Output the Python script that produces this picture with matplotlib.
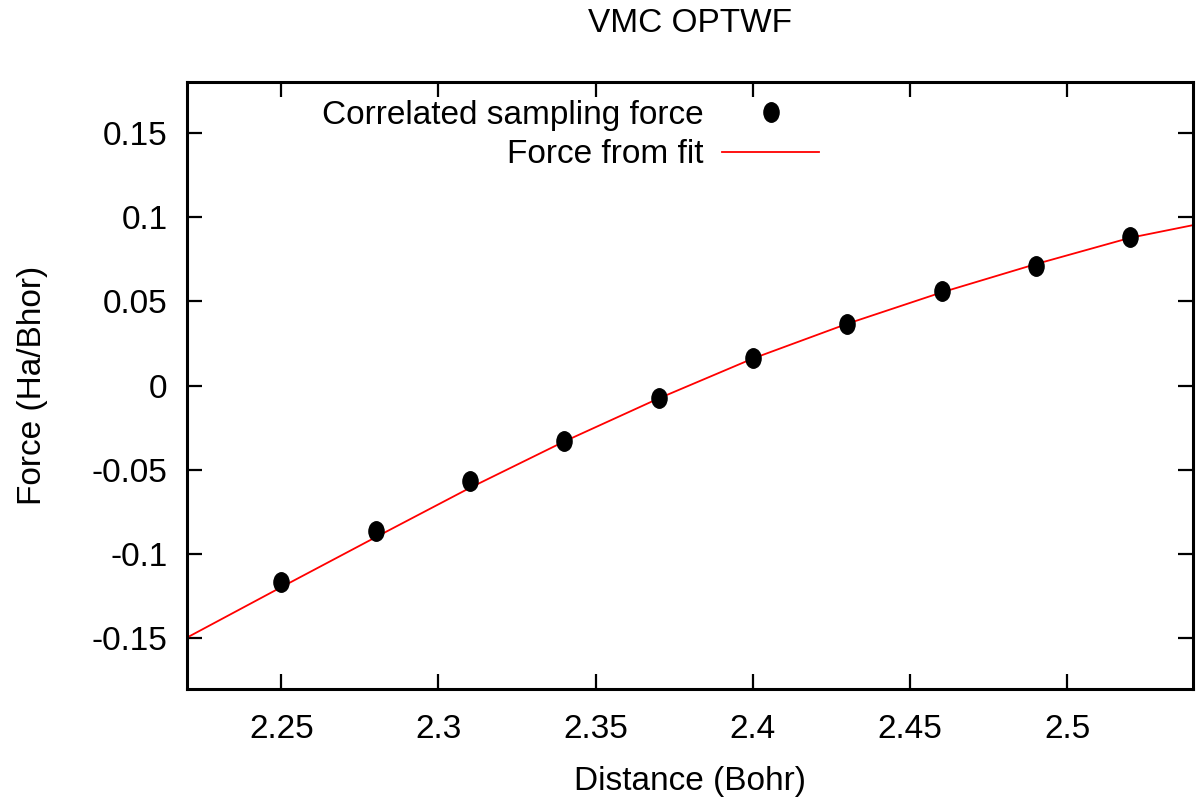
import matplotlib
matplotlib.use("Agg")
import matplotlib.pyplot as plt
from matplotlib.path import Path
from matplotlib.transforms import Affine2D

# correlated sampling forces (Ha/Bohr) at each distance
distance = [2.25, 2.28, 2.31, 2.34, 2.37, 2.40, 2.43, 2.46, 2.49, 2.52]
force = [-0.1165, -0.0862, -0.0565, -0.0328, -0.0073, 0.0164, 0.0366, 0.0563, 0.0708, 0.0882]

# fitted force curve
fit_x = [2.22, 2.25, 2.28, 2.31, 2.34, 2.37, 2.40, 2.43, 2.46, 2.49, 2.52, 2.54]
fit_y = [-0.1495, -0.1196, -0.0900, -0.0607, -0.0332, -0.0077, 0.0160, 0.0366, 0.0552, 0.0720, 0.0876, 0.0951]

xticks = [2.25, 2.3, 2.35, 2.4, 2.45, 2.5]
yticks = [-0.15, -0.1, -0.05, 0, 0.05, 0.1, 0.15]

fs = 24
plt.rcParams.update({'font.family': ['Liberation Sans', 'DejaVu Sans'], 'font.size': fs})

fig = plt.figure(figsize=(11.96, 8.05), dpi=100)
ax = fig.add_axes([187/1196, 1 - 689/805, (1193-187)/1196, (689-82)/805])

# gnuplot-style filled dot, a bit taller than wide
dot = Path.unit_circle().transformed(Affine2D().scale(0.78, 1.0))

ax.plot(fit_x, fit_y, color='#ff0000', lw=1.3, label='Force from fit', zorder=2)
ax.plot(distance, force, linestyle='none', marker=dot, markersize=14,
        color='black', label='Correlated sampling force', zorder=3)

ax.set_xlim(2.22, 2.54)
ax.set_ylim(-0.18, 0.18)
ax.set_xticks(xticks)
ax.set_xticklabels([f"{t:g}" for t in xticks])
ax.set_yticks(yticks)
ax.set_yticklabels([f"{t:g}" for t in yticks])

ax.tick_params(direction='in', length=11, width=1.6, top=True, right=True,
               labelsize=fs)
ax.tick_params(axis='x', pad=18)
ax.tick_params(axis='y', pad=14)
for s in ax.spines.values():
    s.set_linewidth(2.2)

ax.set_xlabel('Distance (Bohr)', fontsize=fs)
ax.set_ylabel('Force (Ha/Bhor)', fontsize=fs)
ax.xaxis.set_label_coords(0.5, (689 - 766) / 607)
ax.yaxis.set_label_coords((48 - 187) / 1006, 0.5)
fig.text(690/1196, 1 - 24/805, 'VMC OPTWF', ha='center', va='center', fontsize=fs)

handles, labels = ax.get_legend_handles_labels()
ax.legend(handles[::-1], labels[::-1], loc='upper right', markerfirst=False,
          frameon=False, fontsize=fs, handlelength=2.9, handletextpad=0.57,
          labelspacing=0.25, borderpad=0, borderaxespad=0,
          bbox_to_anchor=(819/1196, 1 - 100/805), bbox_transform=fig.transFigure)

fig.savefig('out.png', dpi=100)
